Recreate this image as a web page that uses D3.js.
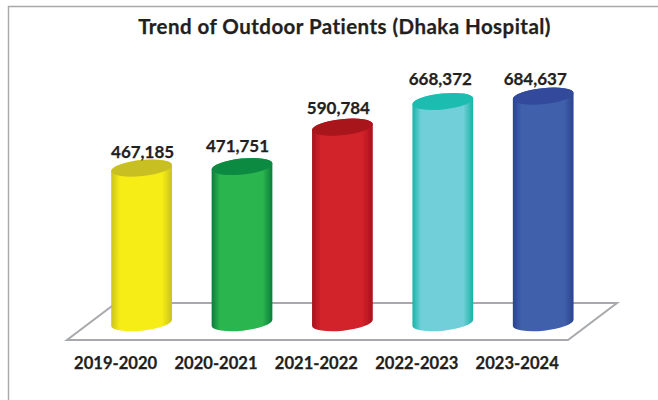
<html>
<head>
<title>Trend of Outdoor Patients</title>
<style>
  html, body { margin: 0; background: #fff; overflow: hidden; }
  text { font-family: Lato, "Open Sans", sans-serif; font-weight: 700; fill: #231f20; stroke: #231f20; stroke-width: 0.25px; }
</style>
</head>
<body>
<svg id="chart" width="658" height="400" style="display:block"></svg>
<script src="https://d3js.org/d3.v7.min.js"></script>
<script>
const years = ["2019-2020", "2020-2021", "2021-2022", "2022-2023", "2023-2024"]
const patients = [467185, 471751, 590784, 668372, 684637]
const edgeColors = ["#c9c21c", "#0b7d3c", "#a5141c", "#17b3a6", "#2b4390"]
const midColors = ["#f6ec17", "#2cb54f", "#d2202a", "#70cfd8", "#4060ab"]
const topColors = ["#c8bf24", "#0f8a42", "#a8141e", "#1cbdb0", "#304a9c"]

let svg = d3.select("#chart")
let defs = svg.append("defs")

defs.append("filter").attr("id", "soft")
    .append("feGaussianBlur").attr("stdDeviation", 0.6)

// only the top and left of the frame are in the picture
svg.append("path").attr("d", "M658,6.5H8.5V400")
   .attr("fill", "none").attr("stroke", "#a7a9ac").attr("stroke-width", 1.4)

svg.append("text").attr("x", 344.5).attr("y", 34).attr("text-anchor", "middle")
   .attr("font-size", 20.5).attr("letter-spacing", 0.45)
   .text("Trend of Outdoor Patients (Dhaka Hospital)")

let x = d3.scaleBand().domain(years).range([91, 593.8]).paddingInner(0.392).paddingOuter(0.2)
let y = d3.scaleLinear().domain([0, 700000]).range([322.7, 91])

// floor of the chart
svg.append("path")
   .attr("d", d3.line()([[67, 340], [568, 340], [617, 303], [116, 303]]) + "Z")
   .attr("fill", "none").attr("stroke", "#a7a9ac").attr("stroke-width", 2)

const rx = x.bandwidth() / 2, ry = 8, tiltDeg = 6
const dx = rx * Math.cos(tiltDeg * Math.PI / 180), dy = rx * Math.sin(tiltDeg * Math.PI / 180)
// the labels do not sit evenly over the bars in the original
const labelShift = [1, -4.5, -4, -2.5, -8]
const labelLift = [10, 15, 13, 16, 11]

years.forEach((year, i) => {
  let grad = defs.append("linearGradient").attr("id", "g" + i)
  grad.append("stop").attr("offset", "0%").attr("stop-color", edgeColors[i])
  grad.append("stop").attr("offset", "14%").attr("stop-color", midColors[i])
  grad.append("stop").attr("offset", "84%").attr("stop-color", midColors[i])
  grad.append("stop").attr("offset", "100%").attr("stop-color", edgeColors[i])
})

let bars = svg.selectAll("g.bar").data(years).enter().append("g").attr("class", "bar")

let cyl = bars.append("g").attr("filter", "url(#soft)")

cyl.append("path")
    .attr("fill", (d, i) => `url(#g${i})`)
    .attr("d", (d, i) => {
      let cx = x(d) + rx, top = y(patients[i]), base = y(0)
      return `M${cx - dx},${top + dy}L${cx - dx},${base + dy}` +
             `A${rx},${ry} ${-tiltDeg} 0 0 ${cx + dx},${base - dy}` +
             `L${cx + dx},${top - dy}A${rx},${ry} ${-tiltDeg} 0 0 ${cx - dx},${top + dy}Z`
    })

cyl.append("ellipse")
    .attr("rx", rx).attr("ry", ry).attr("fill", (d, i) => topColors[i])
    .attr("transform", (d, i) => `translate(${x(d) + rx},${y(patients[i])}) rotate(${-tiltDeg})`)

bars.append("text").attr("text-anchor", "middle").attr("font-size", 17)
    .attr("x", (d, i) => x(d) + rx + labelShift[i])
    .attr("y", (d, i) => y(patients[i]) - labelLift[i])
    .text((d, i) => d3.format(",")(patients[i]))

let axis = d3.axisBottom(x).tickSize(0).tickPadding(0)
let axisG = svg.append("g").attr("transform", "translate(-26,357)").call(axis)
axisG.select(".domain").remove()
axisG.selectAll("text").attr("font-size", 16.6).attr("dy", "0.71em")
     .style("font-family", "Lato").style("fill", "#231f20")
</script>
</body>
</html>
